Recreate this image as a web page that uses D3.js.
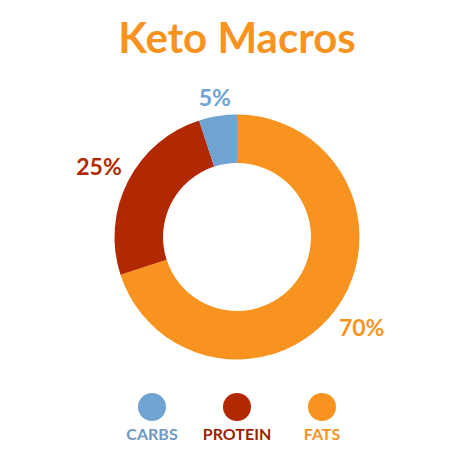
<!DOCTYPE html>
<html>
<head>
<meta charset="utf-8">
<script src="https://d3js.org/d3.v7.min.js"></script>
<style>
  body { margin: 0; background: #fff; }
  text { font-family: Lato, "Open Sans", sans-serif; font-weight: bold; }
</style>
</head>
<body>
<div id="chart"></div>
<script>
// Data
var macros = ["FATS", "PROTEIN", "CARBS"];
var shares = [70, 25, 5];
var shareLabels = ["70%", "25%", "5%"];
var sliceColors = ["#f7931e", "#b22800", "#6fa3d2"];
var legendOrder = ["CARBS", "PROTEIN", "FATS"];
var legendTextColors = { CARBS: "#6f99c2", PROTEIN: "#9c1f00", FATS: "#f7931e" };

var svgWidth = 474;
var svgHeight = 474;
var cx = 237, cy = 237;
var outerR = 122.5, innerR = 74;
var labelGap = 131;

var svg = d3.select("#chart")
    .append("svg")
    .attr("width", svgWidth)
    .attr("height", svgHeight);

// Title
svg.append("text")
    .attr("x", svgWidth / 2)
    .attr("y", 53)
    .attr("text-anchor", "middle")
    .style("font-size", "42px")
    .style("fill", "#f7931e")
    .text("Keto Macros");

var data = macros.map((m, i) => ({ name: m, value: shares[i], label: shareLabels[i], color: sliceColors[i] }));

var pie = d3.pie().sort(null).value(d => d.value);
var arc = d3.arc().innerRadius(innerR).outerRadius(outerR);

var chartGroup = svg.append("g")
    .attr("transform", `translate(${cx}, ${cy})`);

var arcs = pie(data);

chartGroup.selectAll("path")
    .data(arcs)
    .enter()
    .append("path")
    .attr("d", arc)
    .attr("fill", d => d.data.color);

// percentage labels outside the ring, pushed out by their own size
chartGroup.selectAll(".pct")
    .data(arcs)
    .enter()
    .append("text")
    .attr("class", "pct")
    .attr("text-anchor", "middle")
    .attr("dy", "0.36em")
    .style("font-size", "23px")
    .style("fill", d => d.data.color)
    .text(d => d.data.label)
    .each(function(d) {
        var box = this.getBBox();
        var a = (d.startAngle + d.endAngle) / 2;
        var r = labelGap + box.width / 2 * Math.abs(Math.sin(a)) + 8 * Math.abs(Math.cos(a));
        d3.select(this)
            .attr("x", r * Math.sin(a))
            .attr("y", -r * Math.cos(a));
    });

// legend
var legendX = d3.scalePoint()
    .domain(legendOrder)
    .range([152, 322]);

var legend = svg.append("g")
    .selectAll("g")
    .data(legendOrder)
    .enter()
    .append("g")
    .attr("transform", d => `translate(${legendX(d)}, 0)`);

legend.append("circle")
    .attr("cy", 407)
    .attr("r", 14)
    .attr("fill", d => sliceColors[macros.indexOf(d)]);

legend.append("text")
    .attr("y", 440)
    .attr("text-anchor", "middle")
    .style("font-size", "16px")
    .style("fill", d => legendTextColors[d])
    .text(d => d);
</script>
</body>
</html>
